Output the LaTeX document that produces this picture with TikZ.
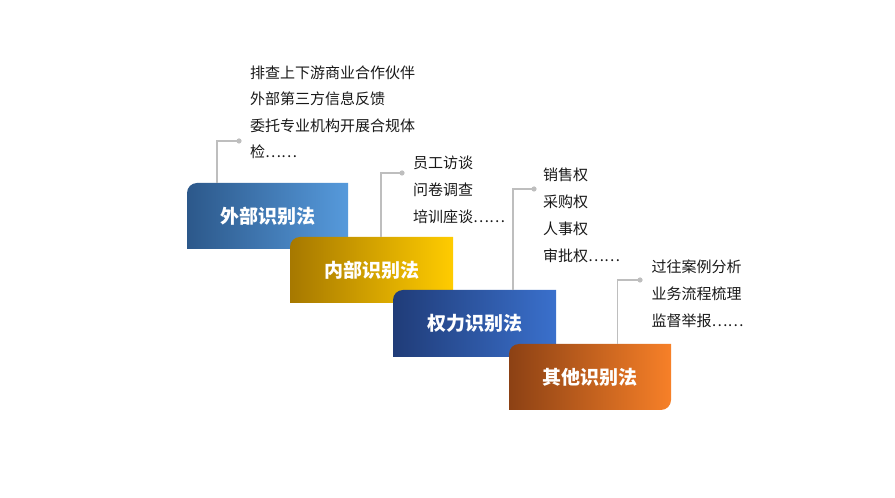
\documentclass[tikz,border=0pt]{standalone}
\usepackage{fontspec}
\newfontfamily\cjk{Noto Sans CJK SC}
\usetikzlibrary{calc}
\definecolor{bOneL}{RGB}{44,88,138}
\definecolor{bOneR}{RGB}{86,154,220}
\definecolor{bTwoL}{RGB}{166,120,0}
\definecolor{bTwoR}{RGB}{255,204,0}
\definecolor{bThreeL}{RGB}{32,60,120}
\definecolor{bThreeR}{RGB}{58,112,204}
\definecolor{bFourL}{RGB}{140,65,20}
\definecolor{bFourR}{RGB}{247,128,40}
\definecolor{connc}{RGB}{190,190,190}
\definecolor{txt}{RGB}{25,25,25}
\tikzset{
  boxlabel/.style={minimum width=161pt, minimum height=66pt, inner sep=0pt,
    text=white, font=\cjk\bfseries\fontsize{19}{19}\selectfont},
  item/.style={anchor=base west, inner sep=0pt, text=txt,
    font=\cjk\fontsize{15}{15}\selectfont},
  conn/.style={draw=connc, line width=1.5pt},
  dotc/.style={fill=connc},
}
% #1 x1, #2 x2, #3 top, #4 bottom
\newcommand\stepshape[4]{(#1,#4) -- (#1,#3-10) arc[start angle=180,end angle=90,radius=10] -- (#2,#3) -- (#2,#4+10) arc[start angle=0,end angle=-90,radius=10] -- cycle}
\begin{document}
\begin{tikzpicture}[x=1pt,y=1pt]
\useasboundingbox (0,0) rectangle (895,498);
\fill[white] (0,0) rectangle (895,498);
% boxes
\shade[left color=bOneL, right color=bOneR] \stepshape{187}{348}{315}{249};
\node[boxlabel] (b1) at (267.5,282) {外部识别法};
\shade[left color=bTwoL, right color=bTwoR] \stepshape{290}{453}{261}{195};
\node[boxlabel] (b2) at (371.5,228) {内部识别法};
\shade[left color=bThreeL, right color=bThreeR] \stepshape{393}{556}{208}{141};
\node[boxlabel] (b3) at (474.5,174.5) {权力识别法};
\shade[left color=bFourL, right color=bFourR] \stepshape{509}{671}{154}{88};
\node[boxlabel] (b4) at (590,121) {其他识别法};
% connectors
\coordinate (c1) at (239,357);
\coordinate (c2) at (402,325);
\coordinate (c3) at (534,309);
\coordinate (c4) at (640,218);
\draw[conn] ([xshift=30pt]b1.north west) |- (c1);
\draw[conn] ([xshift=90pt]b2.north west) |- (c2);
\draw[conn] ([xshift=119pt]b3.north west) |- (c3);
\draw[conn] ([xshift=108pt]b4.north west) |- (c4);
\foreach \c in {c1,c2,c3,c4} \fill[dotc] (\c) circle (2.6);
% texts
\foreach \t [count=\i] in {排查上下游商业合作伙伴,外部第三方信息反馈,委托专业机构开展合规体,检……}
  \node[item] (ga\i) at (250,419.6-26.5*\i+26.5) {\t};
\foreach \t [count=\i] in {员工访谈,问卷调查,培训座谈……}
  \node[item] (gb\i) at (413,329-26.7*\i+26.7) {\t};
\foreach \t [count=\i] in {销售权,采购权,人事权,审批权……}
  \node[item] (gc\i) at (543,317.3-27*\i+27) {\t};
\foreach \t [count=\i] in {过往案例分析,业务流程梳理,监督举报……}
  \node[item] (gd\i) at (651.5,225-26.7*\i+26.7) {\t};
\end{tikzpicture}
\end{document}
